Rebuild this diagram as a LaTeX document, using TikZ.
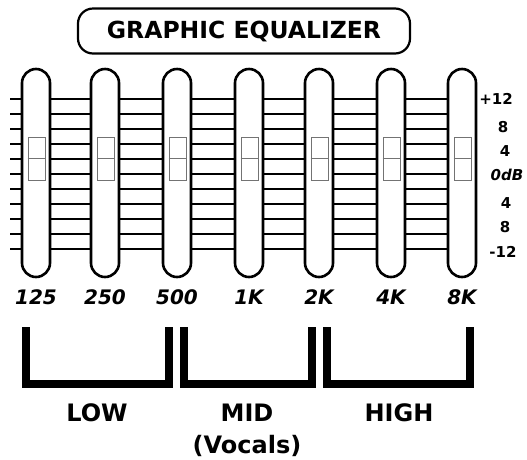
\documentclass[tikz,border=0pt]{standalone}
\usepackage{fontspec}
\setmainfont{DejaVu Sans}
\begin{document}
\begin{tikzpicture}[x=1pt,y=-1pt,
curseur/.style={draw,line width=2.6pt,fill=white,rounded corners=14pt,minimum width=28pt,minimum height=208pt,inner sep=0pt},
bouton/.style={draw=black!55,line width=0.9pt,fill=white,minimum width=17pt,minimum height=43pt,inner sep=0pt},
freq/.style={font=\fontsize{20}{20}\selectfont\bfseries\itshape},
niveau/.style={font=\fontsize{15}{15}\selectfont\bfseries},
bande/.style={line width=8pt,line cap=butt,line join=miter},
zone/.style={font=\fontsize{24}{24}\selectfont\bfseries}]
\useasboundingbox (0,0) rectangle (527,459);
\node[draw,line width=2.2pt,rounded corners=15pt,minimum width=332pt,minimum height=45pt] (titre) at (244,31) {\fontsize{23.5}{23.5}\selectfont\bfseries GRAPHIC EQUALIZER};
% graduations
\foreach \y in {99,114,...,249}
  \draw[line width=1.3pt] (10,\y) -- (462,\y);
\foreach \y in {99,174,249}
  \draw[line width=2.4pt] (10,\y) -- (462,\y);
% curseurs
\foreach \x/\f [count=\i] in {36/125,105/250,177/500,249/1K,319/2K,391/4K,462/8K} {
  \node[curseur] (c\i) at (\x,173) {};
  \node[bouton] (b\i) at (\x+0.5,158.5) {};
  \draw[black!55,line width=0.9pt] (b\i.west) -- (b\i.east);
  \node[freq] (f\i) at (\x,297) {\f};
}
% niveaux
\foreach \x/\y/\t [count=\i] in {496/99/+12,503/127/8,505/151/4,507/175/\textit{0dB},506/203/4,505/227/8,503/252/-12}
  \node[niveau] (n\i) at (\x,\y) {\t};
% bandes
\draw[bande] (26,327) -- (26,384) -- (169,384) -- (169,327);
\draw[bande] (184,327) -- (184,384) -- (312,384) -- (312,327);
\draw[bande] (327,327) -- (327,384) -- (470,384) -- (470,327);
\node[zone] (bas) at (97,413) {LOW};
\node[zone] (milieu) at (247,413) {MID};
\node[zone] (voix) at (247,446) {(Vocals)};
\node[zone] (haut) at (399,413) {HIGH};
\end{tikzpicture}
\end{document}
